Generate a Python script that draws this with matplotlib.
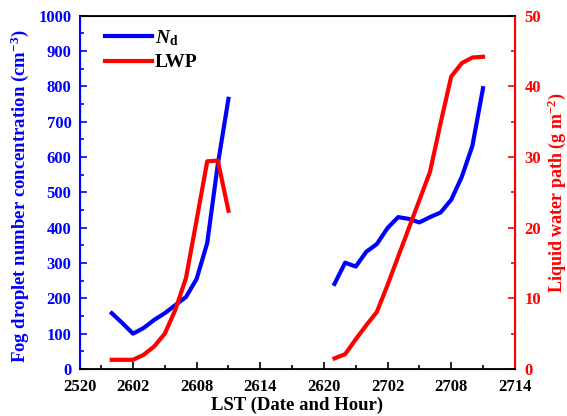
import matplotlib
matplotlib.use('Agg')
import matplotlib.pyplot as plt
from matplotlib.ticker import MultipleLocator, FixedLocator

plt.rcParams['font.family'] = 'Liberation Serif'
plt.rcParams['font.weight'] = 'bold'
plt.rcParams['mathtext.fontset'] = 'custom'
plt.rcParams['mathtext.rm'] = 'Liberation Serif:bold'
plt.rcParams['mathtext.it'] = 'Liberation Serif:italic:bold'
plt.rcParams['mathtext.bf'] = 'Liberation Serif:bold'

# hours counted from 25th 20:00 LST
hours1 = [4, 5, 6, 7, 8, 9, 10, 11, 12, 13, 14, 15]
nd1 = [158, 130, 100, 116, 139, 158, 181, 204, 255, 357, 580, 765]
lwp1 = [1.3, 1.3, 1.3, 2.0, 3.2, 5.0, 8.4, 12.9, 21.1, 29.4, 29.5, 22.4]

hours2 = [25, 26, 27, 28, 29, 30, 31, 32, 33, 34, 35, 36, 37, 38, 39]
nd2 = [241, 301, 290, 332, 354, 399, 430, 425, 415, 430, 443, 479, 544, 632, 795]
lwp2 = [1.5, 2.1, 4.2, 6.2, 8.1, 11.9, 15.9, 19.9, 23.9, 27.9, 34.8, 41.4, 43.3, 44.1, 44.2]

xtick_pos = [1, 6, 12, 18, 24, 30, 36, 42]
xtick_lab = ['2520', '2602', '2608', '2614', '2620', '2702', '2708', '2714']

blue = '#0000ff'
red = '#ff0000'

fig = plt.figure(figsize=(5.67, 4.16), dpi=100)
ax = fig.add_axes([0.141, 0.113, 0.767, 0.849])
ax2 = ax.twinx()

l1, = ax.plot(hours1, nd1, color=blue, lw=3, label=r'$N_\mathrm{d}$')
ax.plot(hours2, nd2, color=blue, lw=3)
l2, = ax2.plot(hours1, lwp1, color=red, lw=3, label='LWP')
ax2.plot(hours2, lwp2, color=red, lw=3)

ax.set_xlim(1, 42)
ax.set_ylim(0, 1000)
ax2.set_ylim(0, 50)

ax.xaxis.set_major_locator(FixedLocator(xtick_pos))
ax.set_xticklabels(xtick_lab)
ax.xaxis.set_minor_locator(FixedLocator([3, 9, 15, 21, 27, 33, 39]))
ax.yaxis.set_major_locator(MultipleLocator(100))
ax.yaxis.set_minor_locator(MultipleLocator(50))
ax2.yaxis.set_major_locator(MultipleLocator(10))
ax2.yaxis.set_minor_locator(MultipleLocator(5))

ax.tick_params(axis='x', which='both', direction='in', top=False, labelsize=12, pad=7)
ax.tick_params(axis='x', which='major', length=5, width=1.2)
ax.tick_params(axis='x', which='minor', length=3, width=1.2)
ax.tick_params(axis='y', which='both', direction='in', colors=blue, labelsize=12,
               width=1.2, pad=6)
ax.tick_params(axis='y', which='major', length=5)
ax.tick_params(axis='y', which='minor', length=3)
ax2.tick_params(axis='y', which='both', direction='in', colors=red, labelsize=12,
                width=1.2, pad=7)
ax2.tick_params(axis='y', which='major', length=5)
ax2.tick_params(axis='y', which='minor', length=3)

for s in ['top', 'bottom']:
    ax2.spines[s].set_linewidth(1.3)
ax2.spines['left'].set_color(blue)
ax2.spines['left'].set_linewidth(1.5)
ax2.spines['right'].set_color(red)
ax2.spines['right'].set_linewidth(1.5)

ax.set_xlabel('LST (Date and Hour)', fontsize=13.5, fontweight='bold')
ax.xaxis.set_label_coords(0.5, -0.078)
ax.set_ylabel(r'Fog droplet number concentration (cm$^{-3}$)', fontsize=13.5,
              fontweight='bold', color=blue)
ax.yaxis.set_label_coords(-0.112, 0.49)
ax2.set_ylabel(r'Liquid water path (g m$^{-2}$)', fontsize=13,
               fontweight='bold', color=red)
ax2.yaxis.set_label_coords(1.07, 0.5)

ax2.legend(handles=[l1, l2], loc='upper left', bbox_to_anchor=(0.058, 0.965),
           frameon=False, fontsize=14, handlelength=2.4, labelspacing=0.3,
           handletextpad=0.15, borderpad=0, borderaxespad=0)

fig.savefig('out.png', dpi=100)
